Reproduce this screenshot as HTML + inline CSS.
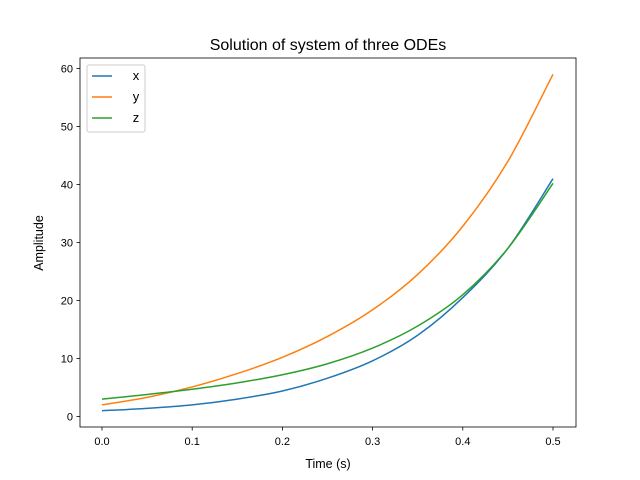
<!DOCTYPE html>
<html><head><meta charset="utf-8"><style>
body{margin:0;background:#fff}
svg{display:block;font-family:"Liberation Sans","DejaVu Sans",sans-serif}
</style></head><body>
<svg id="chart" width="640" height="480" viewBox="0 0 640 480">
<rect width="640" height="480" fill="#fff"/>
<text x="328" y="50" text-anchor="middle" font-size="16">Solution of system of three ODEs</text>
<g id="plot"></g>
<rect x="80" y="58" width="496" height="369" fill="none" stroke="#000" stroke-width="0.8"/>
<text x="328" y="468" text-anchor="middle" font-size="12.5">Time (s)</text>
<text transform="translate(43,243) rotate(-90)" text-anchor="middle" font-size="12.5">Amplitude</text>
<g>
<rect x="87" y="65" width="58" height="67" rx="2" fill="#fff" fill-opacity="0.8" stroke="#ccc"/>
</g>
</svg>
<script>
const times=[0,0.05,0.1,0.15,0.2,0.25,0.3,0.35,0.4,0.45,0.5];
const xVals=[1,1.4,2.0,3.0,4.4,6.6,9.6,14,20.5,29,41];
const yVals=[2,3.3,5.1,7.4,10.2,13.8,18.4,24.5,32.8,44,59];
const zVals=[3,3.8,4.7,5.8,7.2,9.1,11.8,15.6,21,29,40.2];
const xTicks=[0,0.1,0.2,0.3,0.4,0.5];
const xTickLabels=["0.0","0.1","0.2","0.3","0.4","0.5"];
const yTicks=[0,10,20,30,40,50,60];
const seriesNames=["x","y","z"];
const NS="http://www.w3.org/2000/svg";
const sx=t=>102+t*902;
const sy=v=>416.5-v*5.8;
const svg=document.getElementById('chart');
const plot=document.getElementById('plot');
function mk(tag,attrs,parent){const e=document.createElementNS(NS,tag);for(const k in attrs)e.setAttribute(k,attrs[k]);(parent||svg).appendChild(e);return e;}
xTicks.forEach((t,i)=>{
  const l=mk('line',{x1:sx(t),x2:sx(t),y1:427,y2:430.5,stroke:'#000','stroke-width':0.8});
  
  
  const tx=mk('text',{x:sx(t),y:445,'text-anchor':'middle','font-size':11});
  tx.textContent=xTickLabels[i];
  
  
});
yTicks.forEach(v=>{
  const l=mk('line',{x1:76.5,x2:80,y1:sy(v),y2:sy(v),stroke:'#000','stroke-width':0.8});
  
  
  const tx=mk('text',{x:73,y:sy(v)+4,'text-anchor':'end','font-size':11});
  tx.textContent=String(v);
  
  
});
function path(vals){
  const p=times.map((t,i)=>[sx(t),sy(vals[i])]);
  let d='M'+p[0][0]+','+p[0][1];
  for(let i=0;i<p.length-1;i++){
    const p0=p[Math.max(i-1,0)],p1=p[i],p2=p[i+1],p3=p[Math.min(i+2,p.length-1)];
    const c1=[p1[0]+(p2[0]-p0[0])/6,p1[1]+(p2[1]-p0[1])/6];
    const c2=[p2[0]-(p3[0]-p1[0])/6,p2[1]-(p3[1]-p1[1])/6];
    d+=` C${c1[0]},${c1[1]} ${c2[0]},${c2[1]} ${p2[0]},${p2[1]}`;
  }
  return d;
}
const colors=['#1f77b4','#ff7f0e','#2ca02c'];
[xVals,yVals,zVals].forEach((vals,i)=>{
  const e=mk('path',{d:path(vals),fill:'none',stroke:colors[i],'stroke-width':1.5},plot);
  
  
  const y=76+i*21;
  const l=mk('line',{x1:92,x2:112,y1:y,y2:y,stroke:colors[i],'stroke-width':1.5});
  
  
  const t=mk('text',{x:136,y:y+4,'font-size':13,'text-anchor':'middle'});
  t.textContent=seriesNames[i];
  
  
});
</script>
</body></html>
